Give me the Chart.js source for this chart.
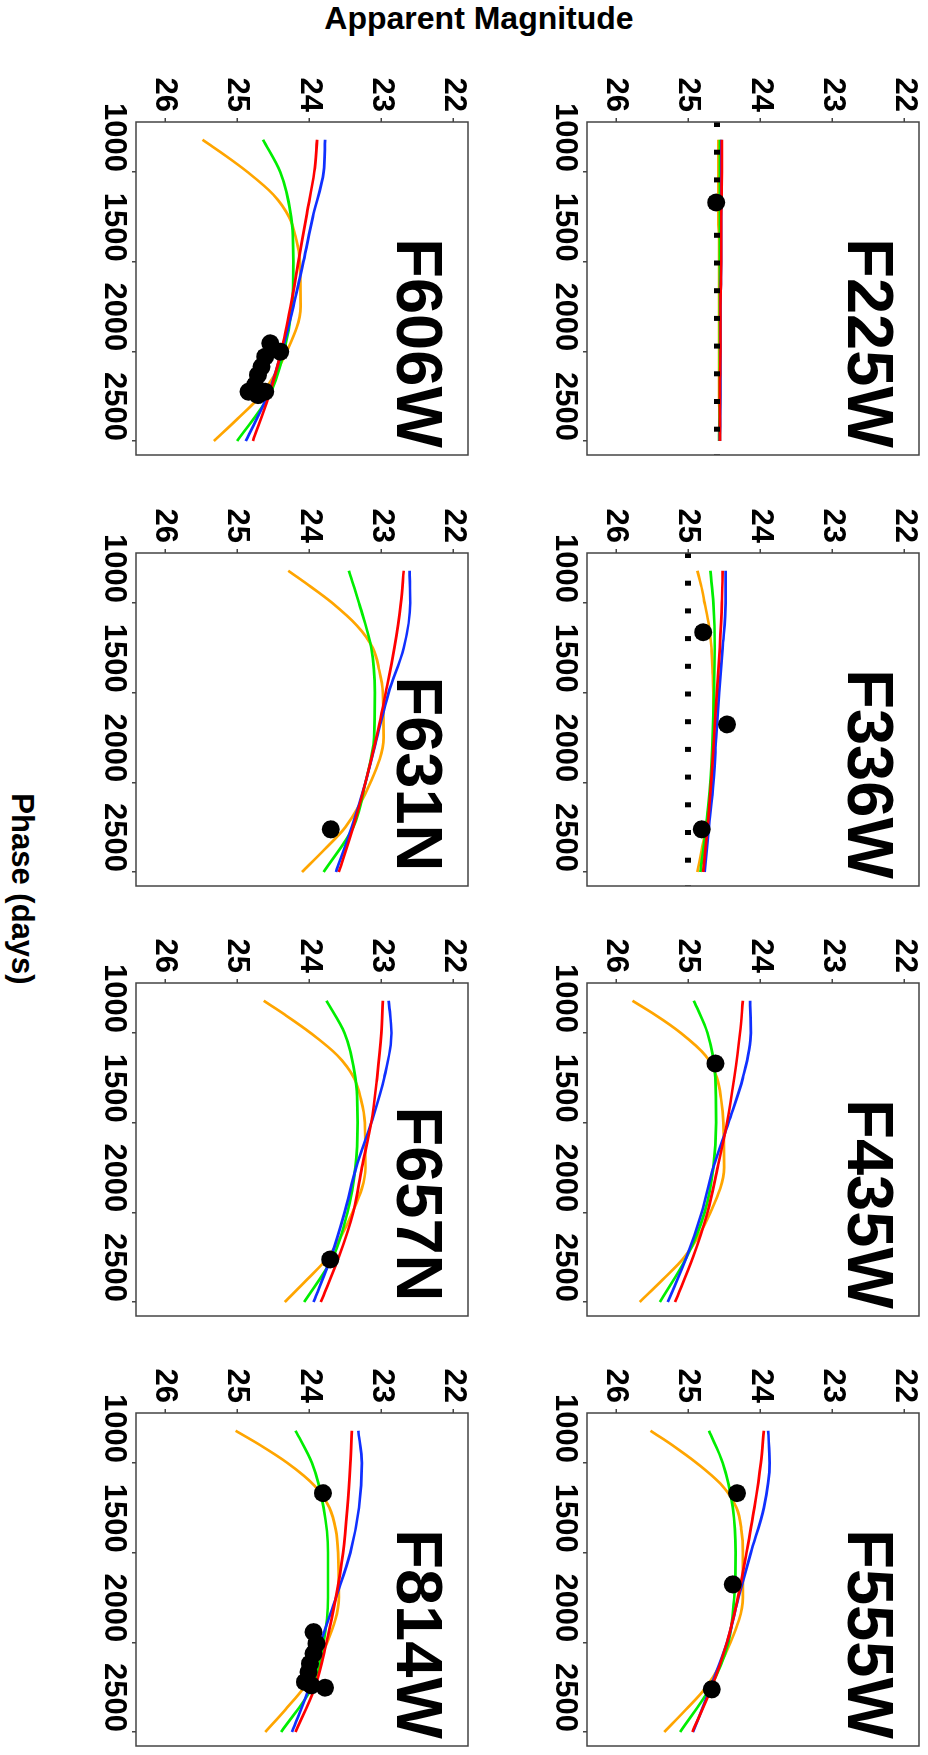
<!DOCTYPE html>
<html>
<head>
<meta charset="utf-8">
<style>
    body { margin: 0; background: #fff; }
    #page { position: relative; width: 928px; height: 1755px; overflow: hidden; background: #fff; }
    /* the figure is laid out landscape and turned a quarter clockwise */
    #sheet {
        position: absolute; left: 0; top: 0; width: 1755px; height: 928px;
        transform-origin: 0 0; transform: translateX(928px) rotate(90deg);
    }
    .panel { position: absolute; width: 403px; height: 392px; }
    .label {
        position: absolute; font: bold 32px "Liberation Sans", Arial, sans-serif;
        color: #000; white-space: nowrap;
    }
    #ylab { left: 18px; top: 449px; transform: translate(-50%, -50%) rotate(-90deg); }
    #xlab { left: 889px; top: 906px; transform: translate(-50%, -50%); font-size: 31px; }
</style>
<script src="https://cdn.jsdelivr.net/npm/chart.js"></script>
</head>
<body>
<div id="page">
    <div id="sheet">
        <div class="label" id="ylab">Apparent Magnitude</div>
        <div class="label" id="xlab">Phase (days)</div>
    </div>
</div>
<script>
    const filters = ['F225W', 'F336W', 'F435W', 'F555W', 'F606W', 'F631N', 'F657N', 'F814W'];
    const phaseTicks = [1000, 1500, 2000, 2500];
    const magTicks = [22, 23, 24, 25, 26];
    const phaseRange = [721, 2578];
    const magRange = [21.8, 26.4];

    // model light curves (blue, red, green sampled on modelPhase)
    const modelPhase = [820, 1000, 1250, 1500, 1750, 2000, 2250, 2500];
    const blueMag = [
        [24.54, 24.54, 24.54, 24.54, 24.55, 24.55, 24.55, 24.56],
        [24.48, 24.48, 24.52, 24.57, 24.61, 24.65, 24.71, 24.77],
        [24.14, 24.13, 24.24, 24.44, 24.65, 24.81, 25.02, 25.28],
        [23.89, 23.87, 23.95, 24.13, 24.30, 24.46, 24.69, 24.93],
        [23.78, 23.80, 23.95, 24.08, 24.22, 24.38, 24.58, 24.88],
        [22.61, 22.60, 22.69, 22.90, 23.06, 23.22, 23.41, 23.63],
        [22.90, 22.86, 22.96, 23.14, 23.35, 23.51, 23.70, 23.94],
        [23.32, 23.27, 23.31, 23.43, 23.63, 23.84, 24.00, 24.24]
    ];
    const redMag = [
        [24.53, 24.53, 24.54, 24.54, 24.55, 24.55, 24.56, 24.56],
        [24.52, 24.53, 24.56, 24.60, 24.64, 24.68, 24.73, 24.79],
        [24.24, 24.28, 24.36, 24.46, 24.59, 24.73, 24.93, 25.18],
        [23.95, 23.99, 24.08, 24.19, 24.31, 24.46, 24.67, 24.94],
        [23.89, 23.93, 24.04, 24.15, 24.26, 24.39, 24.56, 24.78],
        [22.69, 22.73, 22.82, 22.94, 23.07, 23.22, 23.39, 23.59],
        [22.98, 23.00, 23.06, 23.14, 23.27, 23.39, 23.59, 23.84],
        [23.41, 23.43, 23.47, 23.53, 23.63, 23.76, 23.92, 24.19]
    ];
    const greenMag = [
        [24.56, 24.56, 24.56, 24.56, 24.56, 24.56, 24.56, 24.57],
        [24.69, 24.65, 24.63, 24.64, 24.66, 24.69, 24.75, 24.83],
        [24.92, 24.73, 24.62, 24.61, 24.65, 24.77, 25.02, 25.39],
        [24.71, 24.52, 24.38, 24.34, 24.36, 24.44, 24.69, 25.11],
        [24.64, 24.40, 24.25, 24.22, 24.24, 24.35, 24.56, 25.00],
        [23.45, 23.31, 23.14, 23.09, 23.10, 23.22, 23.39, 23.80],
        [23.76, 23.51, 23.36, 23.33, 23.36, 23.47, 23.67, 24.07],
        [24.19, 23.96, 23.80, 23.74, 23.74, 23.80, 23.96, 24.39]
    ];
    const orangePhase = [820, 900, 1000, 1125, 1250, 1375, 1500, 1750, 2000, 2250, 2375, 2500];
    const orangeMag = [
        [24.58, 24.58, 24.58, 24.58, 24.58, 24.57, 24.57, 24.57, 24.57, 24.57, 24.56, 24.56],
        [24.87, 24.82, 24.77, 24.71, 24.675, 24.66, 24.65, 24.65, 24.68, 24.75, 24.81, 24.87],
        [25.77, 25.45, 25.10, 24.76, 24.60, 24.54, 24.51, 24.50, 24.69, 25.05, 25.35, 25.67],
        [25.52, 25.22, 24.88, 24.53, 24.33, 24.26, 24.24, 24.24, 24.41, 24.75, 25.03, 25.33],
        [25.48, 25.19, 24.855, 24.50, 24.28, 24.18, 24.13, 24.12, 24.31, 24.68, 24.99, 25.32],
        [24.29, 24.01, 23.68, 23.34, 23.12, 23.03, 22.98, 22.97, 23.15, 23.50, 23.79, 24.10],
        [24.63, 24.33, 23.98, 23.61, 23.38, 23.28, 23.23, 23.22, 23.40, 23.74, 24.03, 24.34],
        [25.02, 24.68, 24.30, 23.93, 23.72, 23.63, 23.60, 23.59, 23.75, 24.07, 24.33, 24.61]
    ];

    // observed points
    const obsPhase = [
        [1170],
        [1163, 1677, 2262],
        [1170],
        [1168, 1677, 2262],
        [1955, 2002, 2030, 2086, 2132, 2188, 2225, 2225, 2244],
        [2262],
        [2263],
        [1168, 1943, 2007, 2063, 2119, 2166, 2221, 2240, 2253]
    ];
    const obsMag = [
        [24.61],
        [24.79, 24.46, 24.81],
        [24.62],
        [24.32, 24.38, 24.67],
        [24.54, 24.40, 24.61, 24.66, 24.71, 24.75, 24.84, 24.61, 24.71],
        [23.70],
        [23.71],
        [23.81, 23.94, 23.90, 23.94, 23.99, 24.01, 24.06, 23.97, 23.78]
    ];
    // detection limits (dotted)
    const limitMag = [24.6, 25.0, null, null, null, null, null, null];

    const frameLeft = [122, 553, 983, 1413];
    const frameTop = [9, 460];

    Chart.defaults.font.family = '"Liberation Sans", Arial, sans-serif';
    Chart.defaults.color = '#000';

    const frameAndName = {
        id: 'frameAndName',
        afterDraw(chart, args, opts) {
            const { ctx, chartArea: a } = chart;
            ctx.save();
            ctx.strokeStyle = '#444';
            ctx.lineWidth = 1.5;
            ctx.strokeRect(a.left, a.top, a.right - a.left, a.bottom - a.top);
            ctx.fillStyle = '#000';
            ctx.font = 'bold 65px "Liberation Sans", Arial, sans-serif';
            ctx.textAlign = 'center';
            ctx.textBaseline = 'alphabetic';
            ctx.fillText(opts.name, a.left + 221, a.top + 71);
            ctx.restore();
        }
    };

    const tickFont = { size: 31, weight: 'bold' };
    const sheet = document.getElementById('sheet');

    filters.forEach((name, i) => {
        const col = i % 4, row = Math.floor(i / 4);
        const box = document.createElement('div');
        box.className = 'panel';
        box.style.left = (frameLeft[col] - 60) + 'px';
        box.style.top = (frameTop[row] - 10) + 'px';
        const cv = document.createElement('canvas');
        cv.width = 403;
        cv.height = 392;
        box.appendChild(cv);
        sheet.appendChild(box);

        const line = (phases, mags, color) => ({
            data: phases.map((p, k) => ({ x: p, y: mags[k] })),
            borderColor: color, borderWidth: 2.7,
            pointRadius: 0, cubicInterpolationMode: 'monotone', fill: false
        });

        const datasets = [{
            data: obsPhase[i].map((p, k) => ({ x: p, y: obsMag[i][k] })),
            showLine: false, pointRadius: 9, pointBackgroundColor: '#000',
            pointBorderWidth: 0, borderColor: '#000'
        }];
        if (limitMag[i] !== null) {
            datasets.push({
                data: phaseRange.map(p => ({ x: p, y: limitMag[i] })),
                borderColor: '#000', borderWidth: 6, borderDash: [5, 22.7],
                pointRadius: 0, fill: false
            });
        }
        datasets.push(line(modelPhase, redMag[i], '#ff0000'));
        datasets.push(line(modelPhase, blueMag[i], '#1030ff'));
        datasets.push(line(modelPhase, greenMag[i], '#00ee00'));
        datasets.push(line(orangePhase, orangeMag[i], '#ffa500'));

        new Chart(cv, {
            type: 'line',
            data: { datasets },
            plugins: [frameAndName],
            options: {
                responsive: false,
                animation: false,
                devicePixelRatio: 1,
                layout: { padding: { top: 10, right: 10, left: 0, bottom: 0 } },
                plugins: {
                    legend: { display: false },
                    tooltip: { enabled: false },
                    frameAndName: { name }
                },
                scales: {
                    x: {
                        type: 'linear', position: 'bottom',
                        min: phaseRange[0], max: phaseRange[1],
                        afterBuildTicks: s => { s.ticks = phaseTicks.map(v => ({ value: v })); },
                        afterFit: s => {
                            s.height = 50;
                            s.paddingLeft = 0; s.paddingRight = 0;
                        },
                        ticks: {
                            font: tickFont, color: '#000', padding: 0, align: 'end',
                            maxRotation: 0, minRotation: 0, autoSkip: false,
                            callback: v => String(v)
                        },
                        grid: {
                            drawOnChartArea: false, drawTicks: true, tickLength: 4,
                            color: '#444', lineWidth: 1.5
                        },
                        border: { display: false }
                    },
                    y: {
                        type: 'linear', position: 'left', reverse: true,
                        min: magRange[0], max: magRange[1],
                        afterBuildTicks: s => { s.ticks = magTicks.map(v => ({ value: v })); },
                        afterFit: s => {
                            s.width = 60;
                            s.paddingTop = 0; s.paddingBottom = 0;
                        },
                        ticks: { font: tickFont, color: '#000', padding: 6, autoSkip: false,
                            callback: v => String(v) },
                        grid: {
                            drawOnChartArea: false, drawTicks: true, tickLength: 4,
                            color: '#444', lineWidth: 1.5
                        },
                        border: { display: false }
                    }
                }
            }
        });
    });
</script>
</body>
</html>
